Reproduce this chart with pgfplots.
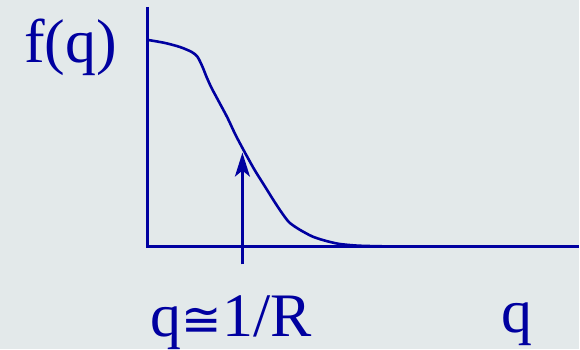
\documentclass[border=0pt]{standalone}
\usepackage{pgfplots}
\pgfplotsset{compat=1.18}
\usepackage{fontspec}
\setmainfont{Liberation Serif}
\newfontfamily\symfont[Scale=0.78]{DejaVu Sans}
\usetikzlibrary{arrows.meta}
\definecolor{ink}{RGB}{0,0,160}
\definecolor{paper}{RGB}{227,233,234}
\begin{document}
\begin{tikzpicture}
\begin{axis}[
  scale only axis, width=580pt, height=350pt,
  xmin=0, xmax=580, ymin=0, ymax=350,
  hide axis, clip=false,
  axis background/.style={fill=paper},
]
% axes of the form-factor sketch
\addplot[ink, line width=2.8pt, line cap=butt, mark=none] coordinates {(148,343) (148,103)};
\addplot[ink, line width=2.8pt, mark=none] coordinates {(146.6,103) (580,103)};
% f(q): flat start, steep drop, long tail
\addplot[ink, line width=2.6pt, smooth, tension=0.45, mark=none, line join=round] coordinates {
  (148,310) (165,307) (180,303) (192,298) (198,293) (203,283) (207,273)
  (212,262) (220,247) (228,232) (236,215) (245,198) (255,180) (265,164)
  (275,148) (283,136) (290,127) (300,120) (313,113) (325,109) (340,105.5)
  (360,103.7) (390,103) (420,103)};
% marker at q = 1/R
\addplot[ink, line width=2.6pt, mark=none,
  -{Stealth[length=24pt, width=15pt, inset=6pt]}] coordinates {(243,85) (243,197)};
\node[ink, anchor=base west, inner sep=0pt, font=\fontsize{62}{70}\selectfont] at (axis cs:24,287) {f(q)};
\node[ink, anchor=base west, inner sep=0pt, font=\fontsize{62}{70}\selectfont] at (axis cs:151,13) {q{\symfont ≅}1/R};
\node[ink, anchor=base west, inner sep=0pt, font=\fontsize{62}{70}\selectfont] at (axis cs:503,17) {q};
\end{axis}
\end{tikzpicture}
\end{document}
